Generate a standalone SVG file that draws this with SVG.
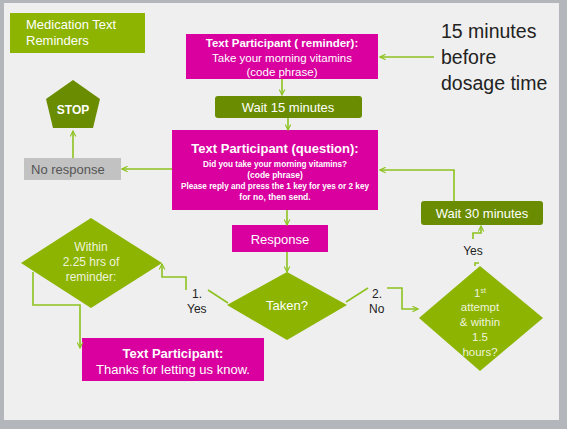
<svg xmlns="http://www.w3.org/2000/svg" width="567" height="429" viewBox="0 0 567 429">
<defs>
<marker id="ah" viewBox="0 0 10 10" refX="9" refY="5" markerWidth="7" markerHeight="7" orient="auto" markerUnits="userSpaceOnUse">
<path d="M1,1 L9,5 L1,9" fill="none" stroke="#8dc21f" stroke-width="1.6"/>
</marker>
<style>
.mag{fill:#d9009f}
.lime{fill:#8cb400}
.dark{fill:#6a8c00}
.t{font-family:"Liberation Sans",Arial,sans-serif;fill:#ffffff;text-anchor:middle}
.b{font-weight:bold}
.lt{fill:#eef3dc}
.blk{font-family:"Liberation Sans",Arial,sans-serif;fill:#222222}
.c{fill:none;stroke:#8dc21f;stroke-width:1.6}
</style>
</defs>
<rect x="0" y="0" width="567" height="429" fill="#b3b7bb"/>
<rect x="4" y="3" width="555" height="417" fill="#efefef"/>

<g id="title">
<rect x="10" y="13" width="135" height="40" class="lime"/>
<text x="26" y="29" class="t" style="text-anchor:start" font-size="13">Medication Text</text>
<text x="26" y="45" class="t" style="text-anchor:start" font-size="13">Reminders</text>
</g>

<g id="note">
<text x="441" y="38" class="blk" font-size="19.5">15 minutes</text>
<text x="441" y="64" class="blk" font-size="19.5">before</text>
<text x="441" y="90" class="blk" font-size="19.5">dosage time</text>
</g>

<g id="reminder">
<rect x="186" y="34" width="192" height="45" class="mag"/>
<text x="282" y="47" class="t b" font-size="11.5">Text Participant ( reminder):</text>
<text x="282" y="62" class="t" font-size="11.5">Take your morning vitamins</text>
<text x="282" y="76" class="t" font-size="11.5">(code phrase)</text>
</g>

<g id="wait15">
<rect x="215" y="96" width="147" height="22" rx="3" class="dark"/>
<text x="288" y="112" class="t" font-size="13">Wait 15 minutes</text>
</g>

<g id="question">
<rect x="172" y="130" width="206" height="80" class="mag"/>
<text x="275" y="153" class="t b" font-size="13">Text Participant (question):</text>
<text x="275" y="167" class="t b" font-size="8.5" textLength="144" lengthAdjust="spacingAndGlyphs">Did you take your morning vitamins?</text>
<text x="275" y="178" class="t b" font-size="8.5">(code phrase)</text>
<text x="275" y="189" class="t b" font-size="8.5" textLength="188" lengthAdjust="spacingAndGlyphs">Please reply and press the 1 key for yes or 2 key</text>
<text x="275" y="200" class="t b" font-size="8.5">for no, then send.</text>
</g>

<g id="noresponse">
<rect x="24" y="158" width="97" height="22" fill="#c2c2c2"/>
<text x="31" y="174" class="blk" style="fill:#555555" font-size="13">No response</text>
</g>

<g id="stop">
<polygon points="73,80 100,99 93,128 53,128 46,99" class="dark"/>
<text x="73" y="114" class="t b" font-size="12">STOP</text>
</g>

<g id="wait30">
<rect x="421" y="201" width="122" height="24" rx="3" class="dark"/>
<text x="482" y="218" class="t" font-size="13">Wait 30 minutes</text>
</g>

<g id="response">
<rect x="232" y="225" width="96" height="27" class="mag"/>
<text x="280" y="244" class="t" font-size="13">Response</text>
</g>

<g id="taken">
<polygon points="287,272 347,305 287,340 227,305" class="lime"/>
<text x="287" y="310" class="t" font-size="13">Taken?</text>
</g>

<g id="within">
<polygon points="91,218 162,263 91,308 21,263" class="lime"/>
<text x="91" y="251" class="t lt" font-size="12">Within</text>
<text x="91" y="266" class="t lt" font-size="12">2.25 hrs of</text>
<text x="91" y="281" class="t lt" font-size="12">reminder:</text>
</g>

<g id="attempt">
<polygon points="480,266 543,318 480,371 419,318" class="lime"/>
<text x="480" y="297" class="t lt" font-size="11.5">1<tspan font-size="7" dy="-4">st</tspan></text>
<text x="480" y="311" class="t lt" font-size="11.5">attempt</text>
<text x="480" y="326" class="t lt" font-size="11.5">&amp; within</text>
<text x="480" y="341" class="t lt" font-size="11.5">1.5</text>
<text x="480" y="356" class="t lt" font-size="11.5">hours?</text>
</g>

<g id="thanks">
<rect x="82" y="338" width="182" height="43" class="mag"/>
<text x="173" y="358" class="t b" font-size="13">Text Participant:</text>
<text x="173" y="374" class="t" font-size="13">Thanks for letting us know.</text>
</g>

<g id="labels">
<text x="192" y="298" class="blk" font-size="12">1.</text>
<text x="187" y="313" class="blk" font-size="12">Yes</text>
<text x="372" y="298" class="blk" font-size="12">2.</text>
<text x="369" y="313" class="blk" font-size="12">No</text>
<text x="473" y="255" class="blk" font-size="12" text-anchor="middle">Yes</text>
</g>

<g id="connectors">
<line x1="434" y1="57" x2="380" y2="57" class="c" marker-end="url(#ah)"/>
<line x1="282" y1="79" x2="282" y2="95" class="c" marker-end="url(#ah)"/>
<line x1="288" y1="118" x2="288" y2="130" class="c" marker-end="url(#ah)"/>
<line x1="172" y1="169" x2="122" y2="169" class="c" marker-end="url(#ah)"/>
<line x1="73" y1="158" x2="73" y2="131" class="c" marker-end="url(#ah)"/>
<polyline points="454,201 454,170 380,170" class="c" marker-end="url(#ah)"/>
<polyline points="473,239 473,233 481,233 481,226" class="c" marker-end="url(#ah)"/>
<polyline points="475,266 475,263 479,263" class="c"/>
<line x1="287" y1="210" x2="287" y2="225" class="c" marker-end="url(#ah)"/>
<line x1="287" y1="252" x2="287" y2="272" class="c" marker-end="url(#ah)"/>
<line x1="228" y1="303" x2="208" y2="290" class="c"/>
<polyline points="186,290 186,277 162,277 162,264" class="c" marker-end="url(#ah)"/>
<polyline points="33,272 33,305 80,305 80,348" class="c" marker-end="url(#ah)"/>
<line x1="346" y1="302" x2="368" y2="288" class="c"/>
<polyline points="387,288 402,288 402,309 418,309" class="c" marker-end="url(#ah)"/>
</g>
</svg>
